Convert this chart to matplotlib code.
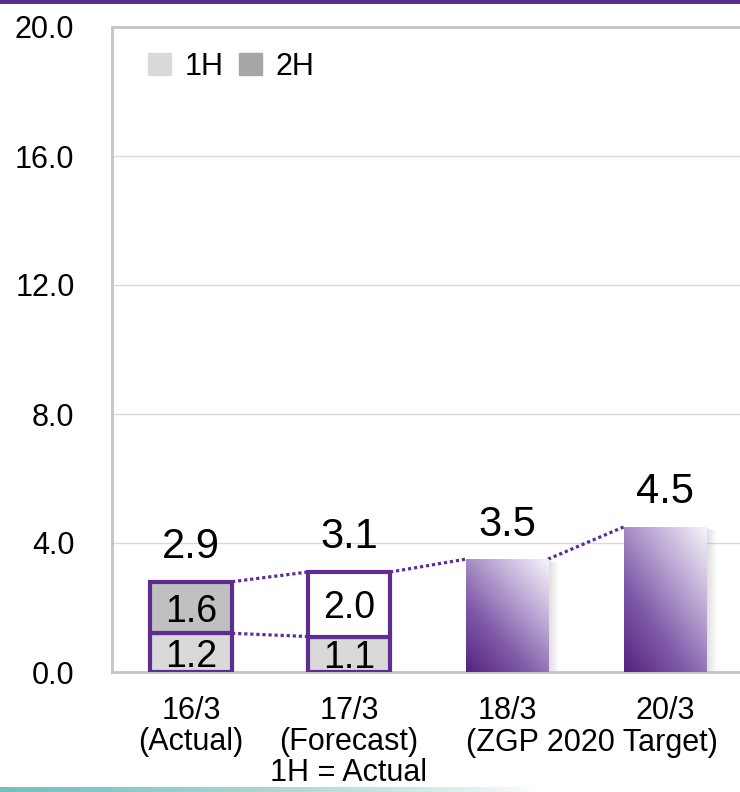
import numpy as np
import matplotlib.pyplot as plt
from matplotlib.patches import Rectangle
from matplotlib.colors import LinearSegmentedColormap

plt.rcParams['font.family'] = ['Liberation Sans', 'DejaVu Sans']

# -------------------------
# Data
# -------------------------
categories = ['16/3\n(Actual)', '17/3\n(Forecast)\n1H = Actual', '18/3', '20/3']
first_half = [1.2, 1.1]          # 1H, 16/3 and 17/3
second_half = [1.6, 2.0]         # 2H, 16/3 and 17/3
totals = [2.9, 3.1, 3.5, 4.5]    # labels above the bars
targets = [3.5, 4.5]             # 18/3 and 20/3
target_note = '(ZGP 2020 Target)'
yticks = [0, 4, 8, 12, 16, 20]

purple = '#5e2d91'
grey_1h = '#d9d9d9'
grey_2h = '#c0c0c0'
grey_2h_legend = '#a6a6a6'
w = 0.52

fig = plt.figure(figsize=(7.4, 7.92), dpi=100)
ax = fig.add_axes([112/740, 120/792, 628/740, 645/792])

x = np.arange(len(categories))

# stacked 1H / 2H bars
ax.bar(x[:2], first_half, w, color=grey_1h, edgecolor=purple, lw=3, zorder=3)
top_colors = [grey_2h, 'white']
ax.bar(x[:2], second_half, w, bottom=first_half, color=top_colors,
       edgecolor=purple, lw=3, zorder=3)

for i in range(2):
    ax.text(x[i], first_half[i] / 2, f'{first_half[i]:.1f}', ha='center',
            va='center_baseline', fontsize=27, zorder=4)
    ax.text(x[i], first_half[i] + second_half[i] / 2, f'{second_half[i]:.1f}',
            ha='center', va='center_baseline', fontsize=27, zorder=4)

# gradient bars for the targets
cmap = LinearSegmentedColormap.from_list(
    'grad', ['#55247f', '#7f5aa8', '#bba8d4', '#f7f3fa'])
uu, vv = np.meshgrid(np.linspace(0, 1, 60), np.linspace(0, 1, 120))
grad = 0.45 * uu + 0.55 * vv
for xi, h in zip(x[2:], targets):
    for k in range(1, 6):
        ax.add_patch(Rectangle((xi - w/2 + 0.012 * k, 0), w, h - 0.02 * k,
                               color='#808080', alpha=0.05, lw=0, zorder=2))
    rect = Rectangle((xi - w/2, 0), w, h, fc='none', ec='none')
    ax.add_patch(rect)
    im = ax.imshow(grad, cmap=cmap, origin='lower', aspect='auto',
                   extent=[xi - w/2, xi + w/2, 0, h], zorder=3,
                   interpolation='bilinear')
    im.set_clip_path(rect)

# value labels on top
bar_tops = [first_half[0] + second_half[0], first_half[1] + second_half[1]] + targets
for xi, top, lab in zip(x, bar_tops, totals):
    ax.annotate(f'{lab:.1f}', (xi, top), xytext=(0, 17), textcoords='offset points',
                ha='center', va='baseline', fontsize=30, zorder=5)

# dotted connectors
dot = dict(color=purple, lw=2.3, linestyle=(0, (1, 0.9)), zorder=2)
ax.plot([x[0] + w/2, x[1] - w/2], [bar_tops[0], bar_tops[1]], **dot)
ax.plot([x[0] + w/2, x[1] - w/2], [first_half[0], first_half[1]], **dot)
ax.plot([x[1] + w/2, x[2] - w/2], [bar_tops[1], bar_tops[2]], **dot)
ax.plot([x[2] + w/2, x[3] - w/2], [bar_tops[2], bar_tops[3]], **dot)

# axes styling
ax.set_xlim(-0.5, 3.475)
ax.set_ylim(0, 20)
ax.set_yticks(yticks)
ax.set_yticklabels([f'{v:.1f}' for v in yticks], fontsize=22)
ax.set_xticks(x)
ax.set_xticklabels(categories, fontsize=22, linespacing=1.05)
ax.tick_params(axis='y', length=0, pad=27)
ax.tick_params(axis='x', length=0, pad=17)
ax.grid(axis='y', color='#d9d9d9', lw=1)
ax.set_axisbelow(True)
ax.spines['right'].set_visible(False)
for s in ['left', 'top', 'bottom']:
    ax.spines[s].set_color('#c4c4c4')
    ax.spines[s].set_linewidth(2)

ax.annotate(target_note, xy=(2.54, 0), xycoords=('data', 'axes fraction'),
            xytext=(0, -51), textcoords='offset points', ha='center',
            va='center', fontsize=22)

# legend
handles = [Rectangle((0, 0), 1, 1, color=grey_1h),
           Rectangle((0, 0), 1, 1, color=grey_2h_legend)]
ax.legend(handles, ['1H', '2H'], ncol=2, frameon=False, fontsize=22,
          loc='upper left', bbox_to_anchor=(0.057, 0.962), borderpad=0,
          borderaxespad=0, handlelength=0.75, handleheight=0.75,
          handletextpad=0.45, columnspacing=0.5)

# purple rule at the top, teal fade at the bottom
fig.add_artist(Rectangle((0, 1 - 4/792), 1, 4/792, transform=fig.transFigure,
                         color='#5b2d8c', lw=0))
fade = fig.add_axes([0, 0, 0.72, 5/792])
fade.axis('off')
rgba = np.zeros((1, 200, 4))
rgba[..., :3] = np.array([0.45, 0.75, 0.74])
rgba[..., 3] = np.linspace(1, 0, 200) ** 0.7
fade.imshow(rgba, aspect='auto', extent=[0, 1, 0, 1])

fig.savefig('out.png', dpi=100)
